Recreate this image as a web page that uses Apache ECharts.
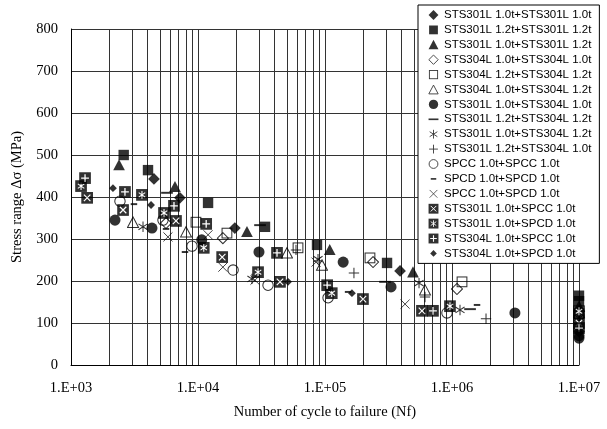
<!DOCTYPE html>
<html>
<head>
<meta charset="utf-8">
<script src="https://cdn.jsdelivr.net/npm/echarts@6/dist/echarts.min.js"></script>
<style>
html, body { margin: 0; padding: 0; background: #fff; }
#chart-container { width: 607px; height: 429px; }
</style>
</head>
<body>
<div id="chart-container"></div>
<script>
// series names, in legend order
var seriesNames = [
    'STS301L 1.0t+STS301L 1.0t',
    'STS301L 1.2t+STS301L 1.2t',
    'STS301L 1.0t+STS301L 1.2t',
    'STS304L 1.0t+STS304L 1.0t',
    'STS304L 1.2t+STS304L 1.2t',
    'STS304L 1.0t+STS304L 1.2t',
    'STS301L 1.0t+STS304L 1.0t',
    'STS301L 1.2t+STS304L 1.2t',
    'STS301L 1.0t+STS304L 1.2t',
    'STS301L 1.2t+STS304L 1.0t',
    'SPCC 1.0t+SPCC 1.0t',
    'SPCD 1.0t+SPCD 1.0t',
    'SPCC 1.0t+SPCD 1.0t',
    'STS301L 1.0t+SPCC 1.0t',
    'STS301L 1.0t+SPCD 1.0t',
    'STS304L 1.0t+SPCC 1.0t',
    'STS304L 1.0t+SPCD 1.0t'
];

// [cycles to failure, stress range MPa]
var s301_10_301_10 = [[4500, 443], [7200, 398], [19500, 326], [390000, 224], [10000000, 80]];
var s301_12_301_12 = [[2600, 500], [4040, 464], [12000, 386], [33700, 329], [86500, 286], [308000, 243], [10000000, 165], [10000000, 152]];
var s301_10_301_12 = [[2390, 476], [6590, 424], [24300, 317], [109000, 274], [493000, 221], [10000000, 140]];
var s304_10_304_10 = [[5600, 338], [15700, 302], [239000, 245], [1094000, 181], [10000000, 128]];
var s304_12_304_12 = [[9640, 340], [16900, 314], [61300, 279], [226000, 255], [1199000, 198], [10000000, 122]];
var s304_10_304_12 = [[3080, 340], [8050, 317], [50200, 267], [94700, 238], [613000, 179], [10000000, 125]];
var s301_10_304_10 = [[2220, 345], [4340, 326], [10700, 298], [30200, 269], [139000, 245], [331000, 186], [3130000, 124], [10000000, 70], [10000000, 64]];
var s301_12_304_12 = [[5700, 410], [30800, 333], [297000, 198], [1387000, 133]];
var s301_10_304_12 = [[3690, 329], [26600, 205], [88100, 252], [550000, 195], [1156000, 131], [10000000, 112]];
var s301_12_304_10 = [[59100, 274], [169000, 219], [613000, 162], [1853000, 110]];
var spcc_spcc = [[2430, 390], [5300, 345], [8970, 283], [18900, 226], [35600, 190], [105700, 160], [913000, 124], [10000000, 118]];
var spcd_spcd = [[3130, 383], [5600, 324], [7900, 269], [152000, 174], [1574000, 143]];
var spcc_spcd = [[5800, 305], [12000, 310], [15700, 233], [28100, 202], [85000, 245], [427000, 145]];
var s301_spcc = [[1340, 398], [2570, 369], [6710, 343], [15500, 257], [44200, 198], [199000, 157], [580000, 129], [10000000, 100]];
var s301_spcd = [[1200, 426], [3620, 405], [5400, 362], [11100, 279], [29700, 221], [113000, 171], [964000, 140], [10000000, 128]];
var s304_spcc = [[1290, 445], [2660, 412], [6470, 379], [11600, 336], [41900, 267], [104000, 190], [708000, 129], [10000000, 88]];
var s304_spcd = [[2140, 421], [4270, 381], [51200, 198], [163000, 171], [10000000, 75]];

var allData = [
    s301_10_301_10, s301_12_301_12, s301_10_301_12, s304_10_304_10, s304_12_304_12,
    s304_10_304_12, s301_10_304_10, s301_12_304_12, s301_10_304_12, s301_12_304_10,
    spcc_spcc, spcd_spcd, spcc_spcd, s301_spcc, s301_spcd, s304_spcc, s304_spcd
];

// vertical grid lines between the decades
var minorTicks = [
    2000, 3000, 4000, 5000, 6000, 7000, 8000, 9000,
    20000, 30000, 40000, 50000, 60000, 70000, 80000, 90000,
    200000, 300000, 400000, 500000, 600000, 700000, 800000, 900000,
    2000000, 3000000, 4000000, 5000000, 6000000, 7000000, 8000000, 9000000
];
var xTickLabels = ['1.E+03', '1.E+04', '1.E+05', '1.E+06', '1.E+07'];

function svgSymbol(body) {
    var svg = '<svg xmlns="http://www.w3.org/2000/svg" width="40" height="40" viewBox="0 0 20 20">' + body + '</svg>';
    return 'image://data:image/svg+xml;charset=utf-8,' + encodeURIComponent(svg);
}

var blackBox = '<rect x="1" y="1" width="18" height="18" fill="#000"/>';
var symbols = [
    svgSymbol('<polygon points="10,1 19,10 10,19 1,10" fill="#000"/>'),
    svgSymbol('<rect x="2" y="2" width="16" height="16" fill="#000"/>'),
    svgSymbol('<polygon points="10,1 19,18 1,18" fill="#000"/>'),
    svgSymbol('<polygon points="10,1.5 18.5,10 10,18.5 1.5,10" fill="none" stroke="#000" stroke-width="1.6"/>'),
    svgSymbol('<rect x="2.5" y="2.5" width="15" height="15" fill="none" stroke="#000" stroke-width="1.6"/>'),
    svgSymbol('<polygon points="10,2 18.5,18 1.5,18" fill="none" stroke="#000" stroke-width="1.6"/>'),
    svgSymbol('<circle cx="10" cy="10" r="8.5" fill="#000"/>'),
    svgSymbol('<rect x="1" y="8.5" width="18" height="3" fill="#000"/>'),
    svgSymbol('<path d="M10 2V18M3 5.5L17 14.5M17 5.5L3 14.5" stroke="#000" stroke-width="1.6"/>'),
    svgSymbol('<path d="M10 2V18M2 10H18" stroke="#000" stroke-width="1.6"/>'),
    svgSymbol('<circle cx="10" cy="10" r="8" fill="none" stroke="#000" stroke-width="1.6"/>'),
    svgSymbol('<rect x="5" y="8.5" width="10" height="3" fill="#000"/>'),
    svgSymbol('<path d="M3 3L17 17M17 3L3 17" stroke="#000" stroke-width="1.4"/>'),
    svgSymbol(blackBox + '<path d="M5 5L15 15M15 5L5 15" stroke="#fff" stroke-width="1.8"/>'),
    svgSymbol(blackBox + '<path d="M10 4V16M5 6.5L15 13.5M15 6.5L5 13.5" stroke="#fff" stroke-width="1.6"/>'),
    svgSymbol(blackBox + '<path d="M10 4V16M4 10H16" stroke="#fff" stroke-width="2"/>'),
    svgSymbol('<polygon points="10,4 16,10 10,16 4,10" fill="#000"/>')
];

var serifFont = '"Liberation Serif", "Times New Roman", serif';
var gridColor = '#333';

var myChart = echarts.init(document.getElementById('chart-container'));

var series = seriesNames.map(function (name, i) {
    return {
        type: 'scatter',
        name: name,
        data: allData[i],
        symbol: symbols[i],
        symbolSize: 13,
        z: 3
    };
});

// minor log grid lines, snapped to whole pixels
series.unshift({
    type: 'custom',
    name: 'minor',
    silent: true,
    z: 1,
    data: minorTicks.map(function (v) { return [v, 0]; }),
    renderItem: function (params, api) {
        var top = api.coord([api.value(0), 800]);
        var bottom = api.coord([api.value(0), 0]);
        var x = Math.round(top[0]) + 0.5;
        return {
            type: 'line',
            shape: { x1: x, y1: top[1], x2: x, y2: bottom[1] },
            style: { stroke: gridColor, lineWidth: 1 }
        };
    }
});

var option = {
    animation: false,
    backgroundColor: '#fff',
    grid: { left: 71, right: 28, top: 29, bottom: 64, containLabel: false },
    legend: {
        data: seriesNames,
        orient: 'vertical',
        left: 418,
        top: 5,
        padding: [4, 8, 4, 10],
        itemGap: 2.9,
        itemWidth: 11,
        itemHeight: 11,
        backgroundColor: '#fff',
        borderColor: '#000',
        borderWidth: 1,
        borderRadius: 0,
        selectedMode: false,
        textStyle: {
            fontFamily: '"Liberation Sans", Arial, sans-serif',
            fontSize: 11.5,
            lineHeight: 12,
            color: '#000'
        }
    },
    xAxis: {
        type: 'log',
        logBase: 10,
        min: 1000,
        max: 10000000,
        name: 'Number of cycle to failure (Nf)',
        nameLocation: 'middle',
        nameGap: 40,
        nameTextStyle: { fontFamily: serifFont, fontSize: 14.5, color: '#000' },
        axisLine: { lineStyle: { color: '#000' } },
        axisTick: { show: false },
        axisLabel: {
            margin: 16,
            fontFamily: serifFont,
            fontSize: 14.5,
            color: '#000',
            formatter: function (v) {
                return xTickLabels[Math.round(Math.log10(v)) - 3];
            }
        },
        splitLine: { show: true, lineStyle: { color: gridColor, width: 1 } }
    },
    yAxis: {
        type: 'value',
        min: 0,
        max: 800,
        interval: 100,
        name: 'Stress range Δσ (MPa)',
        nameLocation: 'middle',
        nameGap: 46,
        nameTextStyle: { fontFamily: serifFont, fontSize: 14.5, color: '#000' },
        axisLine: { show: true, lineStyle: { color: '#000' } },
        axisTick: { show: false },
        axisLabel: { margin: 13, fontFamily: serifFont, fontSize: 14.5, color: '#000' },
        splitLine: { show: true, lineStyle: { color: gridColor, width: 1 } }
    },
    series: series
};

myChart.setOption(option);
</script>
</body>
</html>
